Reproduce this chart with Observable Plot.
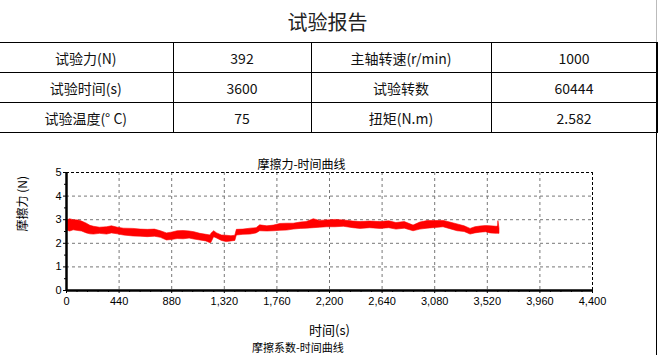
<!DOCTYPE html>
<html>
<head>
<meta charset="utf-8">
<script src="https://cdn.jsdelivr.net/npm/d3@7"></script>
<script src="https://cdn.jsdelivr.net/npm/@observablehq/plot@0.6"></script>
<style>
  html, body { margin: 0; padding: 0; background: #fff; }
  #page { position: relative; width: 661px; height: 355px; overflow: hidden; background: #fff; }
  #title { position: absolute; left: 0; width: 655px; top: 8px; text-align: center; font: 20px "Noto Sans CJK SC", sans-serif; color: #222; line-height: 28px; }
  table { position: absolute; left: -1px; top: 42px; width: 658px; border-collapse: collapse; table-layout: fixed; }
  td { border: 1px solid #000; height: 29px; padding: 0; text-align: center; font: 14px "Noto Sans CJK SC", sans-serif; color: #111; }
  #rline { position: absolute; left: 656px; top: 42px; width: 1px; height: 313px; background: #000; }
  #rline2 { position: absolute; left: 656px; top: 0px; width: 1px; height: 42px; background: #bbb; }
  #chart { position: absolute; left: 0; top: 140px; }
  #next { position: absolute; left: 252px; top: 341px; font: 11px "Noto Sans CJK SC", sans-serif; line-height: 13px; color: #000; white-space: nowrap; }
</style>
</head>
<body>
<div id="page">
  <div id="title">试验报告</div>
  <table id="tbl"></table>
  <div id="rline2"></div>
  <div id="rline"></div>
  <div id="chart"></div>
  <div id="next">摩擦系数-时间曲线</div>
</div>
<script>
// ---- report table ----
const reportTitle = "试验报告";
const labelsLeft = ["试验力(N)", "试验时间(s)", "试验温度(° C)"];
const valuesLeft = ["392", "3600", "75"];
const labelsRight = ["主轴转速(r/min)", "试验转数", "扭矩(N.m)"];
const valuesRight = ["1000", "60444", "2.582"];
const colWidths = [174, 138, 180, 166];

// ---- chart data ----
const chartTitle = "摩擦力-时间曲线";
const xLabel = "时间(s)";
const yLabel = "摩擦力 (N)";
const xTicks = [0, 440, 880, 1320, 1760, 2200, 2640, 3080, 3520, 3960, 4400];
const yTicks = [0, 1, 2, 3, 4, 5];
const xMinor = [88,176,264,352,528,616,704,792,968,1056,1144,1232,1408,1496,1584,1672,1848,1936,2024,2112,2288,2376,2464,2552,2728,2816,2904,2992,3168,3256,3344,3432,3608,3696,3784,3872,4048,4136,4224,4312];
const yMinor = [0.5, 1.5, 2.5, 3.5, 4.5];

// time (s), lower and upper edge of the friction band (N)
const time = [0,30,60,100,130,170,200,230,280,340,380,430,480,560,620,680,740,790,840,880,930,980,1030,1070,1120,1170,1205,1212,1235,1260,1300,1340,1380,1412,1425,1480,1540,1590,1620,1680,1735,1790,1846,1900,1960,2010,2068,2120,2180,2250,2320,2400,2460,2540,2626,2700,2760,2830,2903,2960,3020,3090,3154,3210,3271,3330,3380,3420,3462,3510,3547,3600,3610,3613,3622];
const lower = [2.55,2.50,2.55,2.52,2.50,2.42,2.38,2.37,2.40,2.37,2.42,2.38,2.33,2.29,2.28,2.26,2.28,2.23,2.12,2.14,2.18,2.17,2.20,2.16,2.12,2.08,2.00,2.02,2.26,2.20,2.10,2.05,2.08,2.10,2.33,2.36,2.37,2.42,2.51,2.50,2.51,2.53,2.54,2.58,2.61,2.62,2.64,2.66,2.68,2.68,2.70,2.64,2.61,2.64,2.61,2.64,2.58,2.62,2.51,2.58,2.62,2.65,2.68,2.60,2.51,2.48,2.37,2.42,2.45,2.47,2.42,2.40,2.40,2.40,2.40];
const upper = [2.95,3.02,2.98,2.97,2.92,2.83,2.74,2.70,2.66,2.68,2.72,2.66,2.62,2.61,2.58,2.57,2.58,2.51,2.42,2.45,2.51,2.52,2.50,2.47,2.40,2.36,2.33,2.40,2.51,2.42,2.33,2.32,2.30,2.32,2.57,2.58,2.62,2.64,2.76,2.72,2.75,2.82,2.83,2.83,2.88,2.90,3.02,2.95,2.97,2.99,2.97,2.92,2.90,2.92,2.90,2.93,2.86,2.90,2.75,2.88,2.94,2.94,2.95,2.88,2.80,2.72,2.61,2.68,2.71,2.73,2.72,2.70,2.72,2.94,2.62];

// build table
const tbl = document.getElementById("tbl");
const cg = document.createElement("colgroup");
colWidths.forEach(w => { const c = document.createElement("col"); c.style.width = w + "px"; cg.appendChild(c); });
tbl.appendChild(cg);
labelsLeft.forEach((l, i) => {
  const tr = document.createElement("tr");
  [l, valuesLeft[i], labelsRight[i], valuesRight[i]].forEach((t, j) => {
    const td = document.createElement("td");
    td.textContent = t;
    if (j === 0) td.style.borderLeft = "none";
    tr.appendChild(td);
  });
  tbl.appendChild(tr);
});

const data = time.map((t, i) => ({t, lo: lower[i], hi: upper[i]}));
const fmt = d3.format(",");
const sansFont = "'Liberation Sans', Arial, sans-serif";
const cjkFont = "'Noto Sans CJK SC', sans-serif";

const chart = Plot.plot({
  width: 661,
  height: 215,
  marginLeft: 66,
  marginRight: 69,
  marginTop: 32,
  marginBottom: 65,
  style: {fontFamily: sansFont, fontSize: "11px", color: "#000", background: "transparent", overflow: "visible"},
  x: {domain: [0, 4400], label: null},
  y: {domain: [0, 5], label: null},
  marks: [
    Plot.gridX(xTicks.slice(1, -1), {stroke: "#777", strokeOpacity: 1, strokeDasharray: "3,3"}),
    Plot.gridY(yTicks.slice(1, -1), {stroke: "#777", strokeOpacity: 1, strokeDasharray: "3,3"}),
    Plot.ruleY([5], {stroke: "#000", strokeDasharray: "3,2"}),
    Plot.ruleX([4400], {stroke: "#000", strokeDasharray: "3,2"}),
    Plot.areaY(data, {x: "t", y1: "lo", y2: "hi", fill: "#ff0000", stroke: "#ff0000", strokeWidth: 0.6}),
    Plot.ruleX([0], {stroke: "#000", strokeWidth: 2.5}),
    Plot.ruleY([0], {stroke: "#000", strokeWidth: 2.5}),
    Plot.axisX({ticks: xTicks, tickFormat: fmt, tickSize: 3, tickPadding: 4, fontSize: 11, label: null}),
    Plot.axisX({ticks: xMinor, tickFormat: () => "", tickSize: 2, label: null}),
    Plot.axisY({ticks: yTicks, tickFormat: d3.format("d"), tickSize: 3, tickPadding: 2, fontSize: 11, label: null}),
    Plot.axisY({ticks: yMinor, tickFormat: () => "", tickSize: 2, label: null}),
    Plot.text([chartTitle], {frameAnchor: "top", dx: -28, dy: -12, fontFamily: cjkFont, fontSize: 12, fill: "#000"}),
    Plot.text([xLabel], {frameAnchor: "bottom", dy: 44, fontFamily: cjkFont, fontSize: 13, fill: "#000"}),
    Plot.text([yLabel], {frameAnchor: "left", dx: -43, rotate: -90, fontFamily: cjkFont, fontSize: 12, fill: "#000"})
  ]
});
document.getElementById("chart").appendChild(chart);
</script>
</body>
</html>
